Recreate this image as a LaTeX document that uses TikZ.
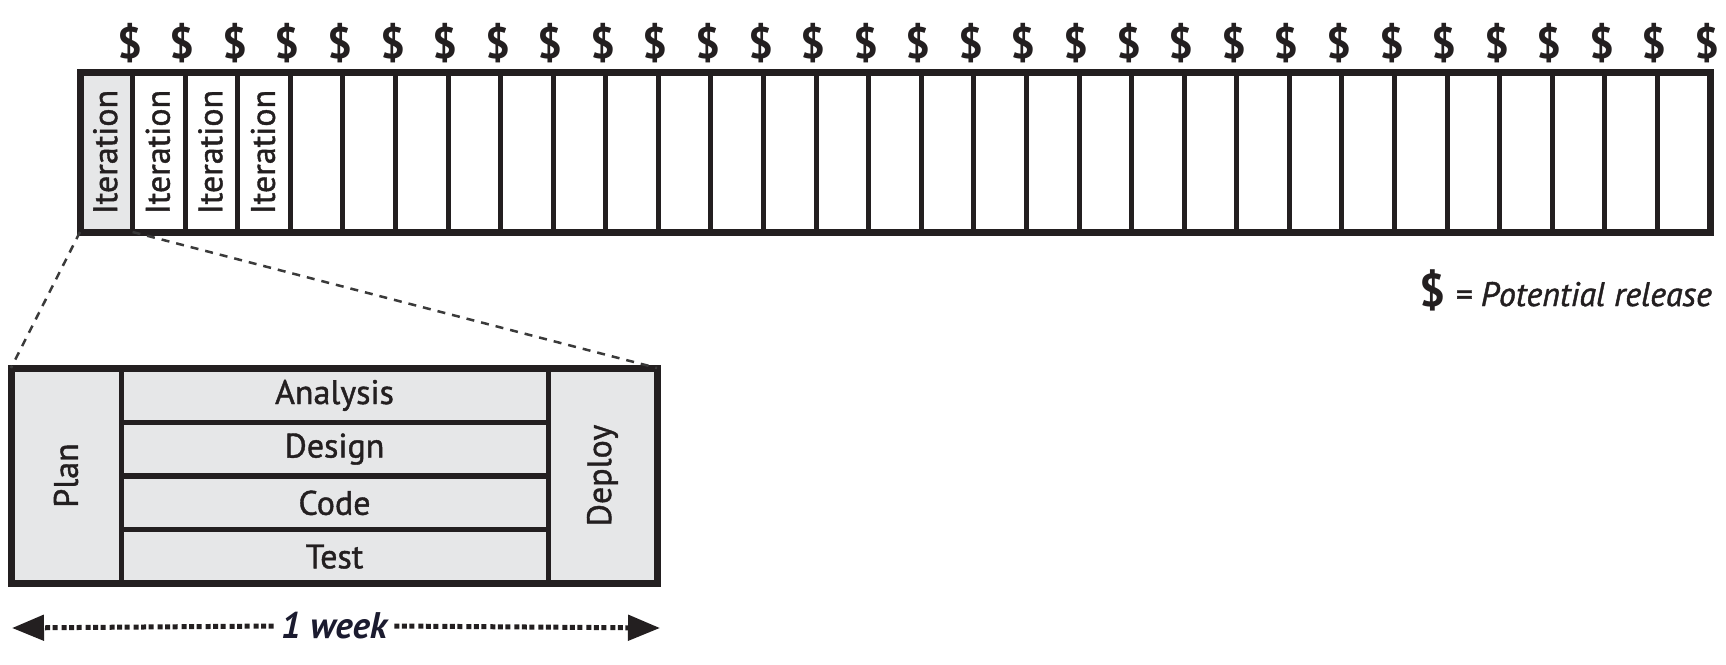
\documentclass[tikz,border=0pt]{standalone}
\usepackage{fontspec}
\setmainfont{PT Sans}
\newfontfamily\medfont{PT Sans}[FakeBold=1.2]
\usetikzlibrary{calc,arrows.meta}
\definecolor{linec}{HTML}{231F20}
\definecolor{fillc}{HTML}{E6E7E8}
\definecolor{dashc}{HTML}{3A3A3A}
\definecolor{weekc}{HTML}{1B1B2F}
\tikzset{
  cell/.style={draw=linec, line width=5pt, rectangle, inner sep=0pt, outer sep=0pt,
    minimum width=52.5806pt, minimum height=160pt},
  graycell/.style={cell, fill=fillc},
  celltext/.style={rotate=90, text=linec, font=\medfont\fontsize{34}{40}\selectfont, inner sep=0pt},
  dollar/.style={text=linec, font=\bfseries\fontsize{44}{48}\selectfont, inner sep=0pt},
  phase/.style={draw=linec, fill=fillc, line width=5pt, rectangle, inner sep=0pt, outer sep=0pt},
  phasetext/.style={text=linec, font=\medfont\fontsize{34}{40}\selectfont, inner sep=0pt},
  zoomline/.style={draw=dashc, line width=2.5pt, dash pattern=on 8pt off 7pt},
  weekline/.style={draw=linec, line width=5pt, dash pattern=on 5pt off 2.5pt on 5pt off 2.5pt on 5pt off 4pt,
    -{Triangle[length=32pt,width=25pt]}},
  outerline/.style={draw=linec, line width=7pt, line join=miter}
}
\begin{document}
\begin{tikzpicture}[x=1pt,y=-1pt]
\useasboundingbox (0,0) rectangle (1726,664);
% top strip of iterations
\foreach \i in {1,...,31}{
  \pgfmathsetmacro{\cx}{80+52.5806*(\i-0.5)}
  \ifnum\i=1
    \node[graycell] (c\i) at (\cx,152) {};
  \else
    \node[cell] (c\i) at (\cx,152) {};
  \fi
  \node[dollar] (d\i) at ($(c\i.north east)+(-3,-29)$) {\$};
}
\draw[outerline] (c1.north west) rectangle (c31.south east);
\foreach \i in {1,...,4}{
  \node[celltext] (t\i) at ($(c\i.center)+(-1,0)$) {Iteration};
}
% legend
\node[text=linec, inner sep=0pt, anchor=base east] (legend) at (1712,306)
  {{\bfseries\fontsize{46}{50}\selectfont\$}\kern10pt{\medfont\itshape\fontsize{34}{40}\selectfont = Potential release}};
% lower iteration detail
\node[phase, minimum width=110pt, minimum height=215pt] (plan) at (66,475.5) {};
\node[phase, minimum width=427pt, minimum height=53.75pt] (analysis) at (334.5,395.4) {};
\node[phase, minimum width=427pt, minimum height=53.75pt] (design) at (334.5,449.1) {};
\node[phase, minimum width=427pt, minimum height=53.75pt] (code) at (334.5,502.9) {};
\node[phase, minimum width=427pt, minimum height=53.75pt] (test) at (334.5,556.6) {};
\node[phase, minimum width=109pt, minimum height=215pt] (deploy) at (602.5,475.5) {};
\draw[outerline] (plan.north west) rectangle (deploy.south east);
\node[phasetext, rotate=90] at (plan.center) {Plan};
\node[phasetext, rotate=90] at (deploy.center) {Deploy};
\node[phasetext] at (analysis.center) {Analysis};
\node[phasetext] at (design.center) {Design};
\node[phasetext] at (code.center) {Code};
\node[phasetext] at (test.center) {Test};
% zoom connectors
\draw[zoomline] (c1.south west) -- (plan.north west);
\draw[zoomline] (c1.south east) -- (deploy.north east);
% duration arrow
\coordinate (aL) at (12,628);
\coordinate (aR) at (660,628);
\node[text=weekc, font=\bfseries\itshape\fontsize{37}{42}\selectfont, inner sep=7pt] (wk) at (334,626) {1 week};
\draw[weekline] (wk.west) -- (aL);
\draw[weekline] (wk.east) -- (aR);
\end{tikzpicture}
\end{document}
